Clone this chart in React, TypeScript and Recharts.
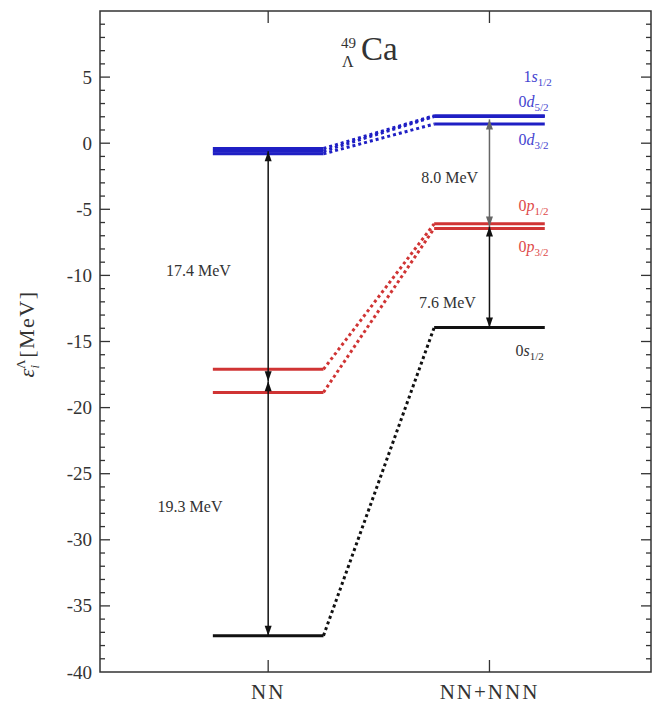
import {
    ComposedChart,
    Line,
    Scatter,
    XAxis,
    YAxis,
    ReferenceLine,
    ReferenceArea,
} from "recharts";

// groups on the x axis (NN = 0, NN+NNN = 1)
const groups = ["NN", "NN+NNN"];

// single particle levels
const levelN = ["1", "0", "0", "0", "0", "0"];
const levelL = ["s", "d", "d", "p", "p", "s"];
const levelJ = ["1/2", "5/2", "3/2", "1/2", "3/2", "1/2"];
const nnEnergy = [-0.4, -0.6, -0.8, -17.1, -18.85, -37.25];
const nnnEnergy = [2.08, 2.02, 1.45, -6.1, -6.45, -13.95];

// gaps between averaged shells
const gapLabels = ["17.4 MeV", "19.3 MeV", "8.0 MeV", "7.6 MeV"];
const gapGroup = [0, 0, 1, 1];
const gapTop = [-0.6, -18.0, 1.8, -6.3];
const gapBottom = [-18.0, -37.25, -6.3, -13.95];

const yTicks = [-40, -35, -30, -25, -20, -15, -10, -5, 0, 5];

// layout
const W = 652;
const H = 704;
const X_DOMAIN: [number, number] = [-0.76, 1.73];
const Y_DOMAIN: [number, number] = [-40, 10];
const HALF = 0.25;
const FONT = "'Liberation Serif', 'DejaVu Serif', serif";
const TEXT = "#333";

const COLORS: Record<string, string> = {
    "1s": "#1f1fc4",
    "0d": "#1f1fc4",
    "0p": "#d03434",
    "0s": "#111111",
};
const LABEL_COLORS: Record<string, string> = {
    "1s": "#4545d0",
    "0d": "#4545d0",
    "0p": "#de4a4a",
    "0s": "#333333",
};
const LEVEL_LABEL_X = [1.154, 1.131, 1.131, 1.131, 1.131, 1.118];
const LEVEL_LABEL_Y = [4.94, 3.05, 0.18, -4.8, -7.9, -15.76];
const GAP_LABEL_X = [-0.315, -0.353, 0.82, 0.81];
const GAP_LABEL_Y = [-9.6, -27.45, -2.6, -12.05];
const GAP_COLORS = ["#111", "#111", "#666", "#111"];

const key = (i: number) => levelN[i] + levelL[i];

function ArrowHead(props: any) {
    const { cx, cy, payload, index, color } = props;
    if (cx == null || cy == null) return null;
    const s = payload.dir === "up" ? 1 : -1;
    const d = `M${cx},${cy} L${cx - 3.5},${cy + s * 10} L${cx + 3.5},${cy + s * 10} Z`;
    return <path key={`ah-${index}`} d={d} fill={color} stroke="none" />;
}

function XTick(props: any) {
    const { x, y, payload } = props;
    return (
        <text
            x={x}
            y={y + 27}
            textAnchor="middle"
            fontFamily={FONT}
            fontSize={21}
            letterSpacing={2}
            fill={TEXT}
        >
            {groups[payload.value]}
        </text>
    );
}

function YTick(props: any) {
    const { x, y, payload } = props;
    return (
        <text
            x={x}
            y={y}
            textAnchor="end"
            dominantBaseline="central"
            fontFamily={FONT}
            fontSize={19}
            fill={TEXT}
        >
            {payload.value}
        </text>
    );
}

function LevelLabel(props: any) {
    const { cx, cy, payload } = props;
    const i = payload.i;
    return (
        <text
            x={cx}
            y={cy + 4}
            fontFamily={FONT}
            fontSize={16}
            fill={LABEL_COLORS[key(i)]}
        >
            <tspan>{levelN[i]}</tspan>
            <tspan fontStyle="italic">{levelL[i]}</tspan>
            <tspan fontSize={11} dy={4}>
                {levelJ[i]}
            </tspan>
        </text>
    );
}

function GapLabel(props: any) {
    const { cx, cy, payload } = props;
    return (
        <text
            x={cx}
            y={cy}
            textAnchor="middle"
            dominantBaseline="central"
            fontFamily={FONT}
            fontSize={16}
            fill={TEXT}
        >
            {gapLabels[payload.i]}
        </text>
    );
}

export default function App() {
    const levels = nnEnergy.map((e, i) => ({
        color: COLORS[key(i)],
        nn: [
            { x: 0 - HALF, y: e },
            { x: 0 + HALF, y: e },
        ],
        link: [
            { x: 0 + HALF, y: e },
            { x: 1 - HALF, y: nnnEnergy[i] },
        ],
        nnn: [
            { x: 1 - HALF, y: nnnEnergy[i] },
            { x: 1 + HALF, y: nnnEnergy[i] },
        ],
    }));

    const arrows = gapLabels.map((_, i) => [
        { x: gapGroup[i], y: gapTop[i], dir: "up" },
        { x: gapGroup[i], y: gapBottom[i], dir: "down" },
    ]);

    const levelLabelData = levelN.map((_, i) => ({
        x: LEVEL_LABEL_X[i],
        y: LEVEL_LABEL_Y[i],
        i,
    }));
    const gapLabelData = gapLabels.map((_, i) => ({
        x: GAP_LABEL_X[i],
        y: GAP_LABEL_Y[i],
        i,
    }));

    // axis ticks drawn inward on all four sides
    const minorY: number[] = [];
    for (let v = Y_DOMAIN[0] + 1; v < Y_DOMAIN[1]; v++) minorY.push(v);
    const xMajorLen = 10 / 221;
    const xMinorLen = 5 / 221;
    const yTickLen = 12 / 13.24;

    return (
        <div style={{ position: "absolute", left: 0, top: 0, background: "#fff" }}>
            <ComposedChart
                width={W}
                height={H}
                margin={{ top: 11, right: 1, bottom: 0, left: 40 }}
            >
                <XAxis
                    type="number"
                    dataKey="x"
                    domain={X_DOMAIN}
                    ticks={[0, 1]}
                    allowDataOverflow
                    axisLine={false}
                    tickLine={false}
                    tickSize={0}
                    tickMargin={0}
                    height={32}
                    tick={<XTick />}
                />
                <YAxis
                    type="number"
                    domain={Y_DOMAIN}
                    ticks={yTicks}
                    allowDataOverflow
                    axisLine={false}
                    tickLine={false}
                    tickSize={0}
                    tickMargin={8}
                    width={60}
                    tick={<YTick />}
                />

                <ReferenceArea
                    x1={X_DOMAIN[0]}
                    x2={X_DOMAIN[1]}
                    y1={Y_DOMAIN[0]}
                    y2={Y_DOMAIN[1]}
                    fill="none"
                    stroke="#333"
                    strokeWidth={1.5}
                    ifOverflow="visible"
                />
                {minorY.map((v) => {
                    const len = v % 5 === 0 ? xMajorLen : xMinorLen;
                    return [
                        <ReferenceLine
                            key={`yl${v}`}
                            segment={[
                                { x: X_DOMAIN[0], y: v },
                                { x: X_DOMAIN[0] + len, y: v },
                            ]}
                            stroke="#333"
                            strokeWidth={1.3}
                            ifOverflow="visible"
                        />,
                        <ReferenceLine
                            key={`yr${v}`}
                            segment={[
                                { x: X_DOMAIN[1], y: v },
                                { x: X_DOMAIN[1] - len, y: v },
                            ]}
                            stroke="#333"
                            strokeWidth={1.3}
                            ifOverflow="visible"
                        />,
                    ];
                })}
                {[0, 1].map((g) => [
                    <ReferenceLine
                        key={`xb${g}`}
                        segment={[
                            { x: g, y: Y_DOMAIN[0] },
                            { x: g, y: Y_DOMAIN[0] + yTickLen },
                        ]}
                        stroke="#333"
                        strokeWidth={1.3}
                        ifOverflow="visible"
                    />,
                    <ReferenceLine
                        key={`xt${g}`}
                        segment={[
                            { x: g, y: Y_DOMAIN[1] },
                            { x: g, y: Y_DOMAIN[1] - yTickLen },
                        ]}
                        stroke="#333"
                        strokeWidth={1.3}
                        ifOverflow="visible"
                    />,
                ])}

                {levels.map((lv, i) => [
                    <Line
                        key={`nn${i}`}
                        data={lv.nn}
                        dataKey="y"
                        type="linear"
                        stroke={lv.color}
                        strokeWidth={3}
                        dot={false}
                        activeDot={false}
                        isAnimationActive={false}
                    />,
                    <Line
                        key={`ln${i}`}
                        data={lv.link}
                        dataKey="y"
                        type="linear"
                        stroke={lv.color}
                        strokeWidth={3}
                        strokeDasharray="3 3"
                        dot={false}
                        activeDot={false}
                        isAnimationActive={false}
                    />,
                    <Line
                        key={`nnn${i}`}
                        data={lv.nnn}
                        dataKey="y"
                        type="linear"
                        stroke={lv.color}
                        strokeWidth={3}
                        dot={false}
                        activeDot={false}
                        isAnimationActive={false}
                    />,
                ])}

                {arrows.map((a, i) => (
                    <Line
                        key={`ar${i}`}
                        data={a}
                        dataKey="y"
                        type="linear"
                        stroke={GAP_COLORS[i]}
                        strokeWidth={1.5}
                        dot={(p: any) => <ArrowHead {...p} key={`ah${i}-${p.index}`} color={GAP_COLORS[i]} />}
                        activeDot={false}
                        isAnimationActive={false}
                    />
                ))}

                <Scatter
                    data={levelLabelData}
                    dataKey="y"
                    shape={(p: any) => <LevelLabel {...p} />}
                    isAnimationActive={false}
                />
                <Scatter
                    data={gapLabelData}
                    dataKey="y"
                    shape={(p: any) => <GapLabel {...p} />}
                    isAnimationActive={false}
                />

                {/* title */}
                <text x={361} y={60} fontFamily={FONT} fontSize={33} fill={TEXT}>
                    Ca
                </text>
                <text x={341} y={48} fontFamily={FONT} fontSize={15} fill={TEXT}>
                    49
                </text>
                <text x={342} y={67} fontFamily={FONT} fontSize={16} fill={TEXT}>
                    Λ
                </text>

                {/* y axis label */}
                <g transform="translate(34,334) rotate(-90)">
                    <text
                        x={0}
                        y={0}
                        textAnchor="middle"
                        fontFamily={FONT}
                        fontSize={22}
                        fill={TEXT}
                    >
                        <tspan fontStyle="italic">ε</tspan>
                        <tspan fontSize={13} dy={-9}>Λ</tspan>
                        <tspan fontSize={13} fontStyle="italic" dx={-9} dy={14}>i</tspan>
                        <tspan dy={-5} letterSpacing={1.5}> [MeV]</tspan>
                    </text>
                </g>
            </ComposedChart>
        </div>
    );
}
